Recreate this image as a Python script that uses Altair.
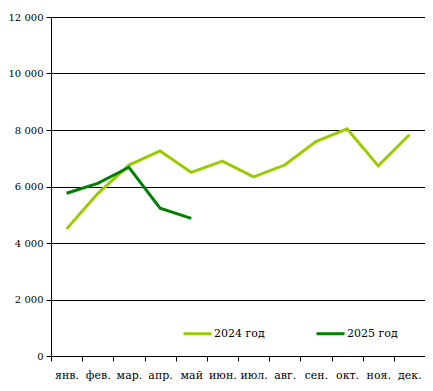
import altair as alt
import pandas as pd

months = ["янв.", "фев.", "мар.", "апр.", "май", "июн.", "июл.", "авг.", "сен.", "окт.", "ноя.", "дек."]
series_2024 = [4500, 5750, 6760, 7260, 6500, 6900, 6340, 6760, 7590, 8040, 6730, 7830]
series_2025 = [5760, 6110, 6680, 5230, 4870]
series_names = ["2024 год", "2025 год"]
colors = ["#99CC00", "#008000"]
y_ticks = [0, 2000, 4000, 6000, 8000, 10000, 12000]

rows = []
for m, v in zip(months, series_2024):
    rows.append({"month": m, "value": v, "series": series_names[0]})
for m, v in zip(months, series_2025):
    rows.append({"month": m, "value": v, "series": series_names[1]})
df = pd.DataFrame(rows)

font = "DejaVu Serif"

chart = alt.Chart(df).mark_line(strokeWidth=3).encode(
    x=alt.X("month:N", sort=months, bandPosition=0.5,
            scale=alt.Scale(type="band", paddingInner=0, paddingOuter=0),
            axis=alt.Axis(title=None, labelAngle=0, tickBand="extent", tickSize=5,
                          labelPadding=8, domainColor="black", tickColor="black",
                          labelFont=font, labelFontSize=11, labelColor="black", grid=False)),
    y=alt.Y("value:Q", scale=alt.Scale(domain=[0, 12000], nice=False),
            axis=alt.Axis(title=None, values=y_ticks, tickSize=5, labelPadding=3,
                          labelExpr="replace(format(datum.value, ','), ',', ' ')",
                          grid=True, gridColor="black", gridOpacity=1, gridWidth=1,
                          domainColor="black", tickColor="black",
                          labelFont=font, labelFontSize=10, labelColor="black")),
    color=alt.Color("series:N", scale=alt.Scale(domain=series_names, range=colors),
                    legend=alt.Legend(title=None, orient="none", legendX=131, legendY=301,
                                      direction="horizontal", symbolType="stroke",
                                      symbolSize=784, symbolStrokeWidth=3, labelOffset=1,
                                      columnPadding=45, padding=0,
                                      labelFont=font, labelFontSize=11, labelColor="black")),
).properties(
    width=374, height=339,
    autosize=alt.AutoSizeParams(type="none"),
    padding={"left": 43, "top": 9, "right": 0, "bottom": 27},
).configure_view(stroke=None).configure(background="white")

chart.save("out.html", embed_options={"renderer": "svg", "actions": False})
